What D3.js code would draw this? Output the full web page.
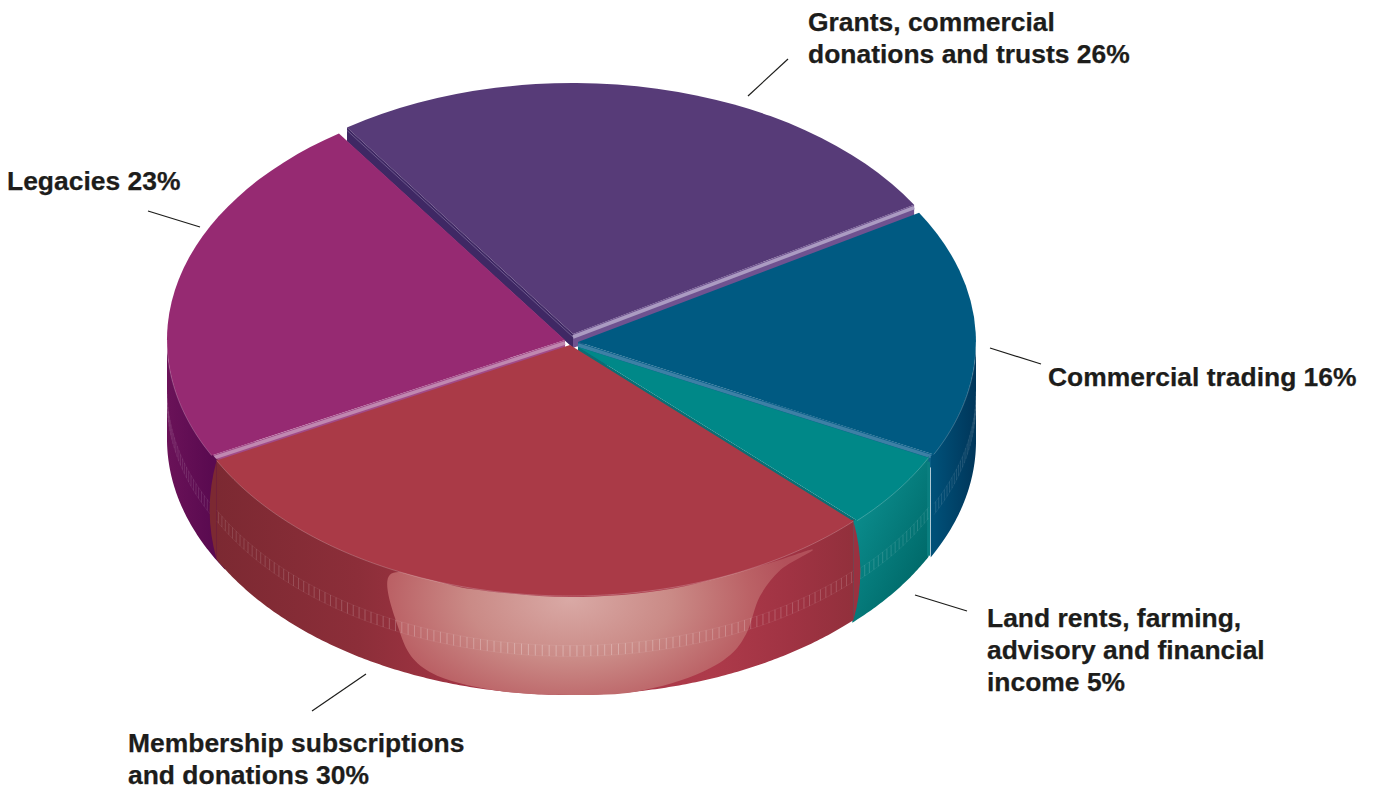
<!DOCTYPE html>
<html>

<head>
    <meta charset="UTF-8" />
    <title>income pie</title>
    <style>
        body {
            margin: 0;
            padding: 0;
            background: #fff;
            overflow: hidden;
        }

        text {
            font-family: 'Liberation Sans', Arial, sans-serif;
            font-weight: 700;
            font-size: 26.45px;
            fill: #1d1d1b;
            stroke: #1d1d1b;
            stroke-width: 0.25px;
        }
    </style>
</head>

<body>
    <script src="https://cdnjs.cloudflare.com/ajax/libs/d3/7.8.5/d3.min.js"></script>
    <script>
        // data, in pie order (clockwise from the top left cut)
        const categories = ['Grants', 'Commercial trading', 'Land rents', 'Membership', 'Legacies'];
        const shares = [26, 16, 5, 30, 23];
        const labelLines = [
            ['Grants, commercial', 'donations and trusts 26%'],
            ['Commercial trading 16%'],
            ['Land rents, farming,', 'advisory and financial', 'income 5%'],
            ['Membership subscriptions', 'and donations 30%'],
            ['Legacies 23%']
        ];

        // styling and layout per slice
        const topColors = ['#573b78', '#005a82', '#008888', '#aa3a47', '#962a72'];
        const wallStops = [
            ['#47306a', '#47306a'],
            ['#00365a', '#005078'],
            ['#006a6a', '#0a8a8a'],
            ['#7c2932', '#a93848'],
            ['#5a0a50', '#6a1258']
        ];
        const origins = [[573, 334], [578, 342], [578, 347], [570, 345], [565, 340]];
        const radii = [1, 1, 0.985, 1, 1];
        const cutEdge = ['both', 'end', 'end', 'none', 'start'];
        const cutFill = ['#6f5290', '#0f628c', '#0b6f75', '#aa3a47', '#a24a88'];
        const cutStripe = ['#ab9bc2', '#3d80a5', '#0b6f75', '#aa3a47', '#c088b0'];
        // extra degrees of wall hidden behind the next slice, so no white shows between walls
        const wallOverrunEnd = [0, 1, 1, 0, 0];
        const wallOverrunStart = [0, 0, 0, 0, 4];
        const labelAnchors = [[808, 31], [1048, 386], [987, 627], [128, 752], [7, 190]];
        const leaders = [
            [[748, 96], [788, 59]],
            [[990, 348], [1041, 364]],
            [[915, 595], [967, 611]],
            [[366, 674], [312, 711]],
            [[148, 211], [200, 227]]
        ];
        const paintOrder = [0, 4, 1, 2, 3];

        // highlight on the red wall: [angle in degrees, fraction down the wall]
        const shineOutline = [
            [142.4, 0.06], [148.1, 0.12], [151.5, 0.31], [153.6, 0.63], [155.8, 0.79], [160.5, 0.91],
            [170.3, 1], [180, 1], [189.7, 1], [199.5, 0.95], [203.2, 0.84], [205.3, 0.61], [206.9, 0.06],
            [195, 0.01], [180, 0.01], [165, 0.01], [150, 0.01]
        ];

        const width = 1380, height = 789;
        const rx = 398, ry = 251, depth = 99, cutDepth = 14, bulge = 14;
        const startDeg = -34.6;

        const svg = d3.select('body').append('svg')
            .attr('width', width)
            .attr('height', height)
            .style('display', 'block');
        const defs = svg.append('defs');

        const pie = d3.pie().sort(null)
            .startAngle(startDeg * Math.PI / 180)
            .endAngle((startDeg + 360) * Math.PI / 180);
        const slices = pie(shares);

        // unit circle -> picture, for one slice
        const px = (i, a) => origins[i][0] + radii[i] * rx * Math.sin(a);
        const py = (i, a) => origins[i][1] - radii[i] * ry * Math.cos(a);

        const arcUnit = d3.arc().innerRadius(0).outerRadius(1);
        const deg = Math.PI / 180;

        slices.forEach((d, i) => {
            const grad = defs.append('linearGradient')
                .attr('id', 'wall' + i)
                .attr('gradientUnits', 'userSpaceOnUse')
                .attr('x1', px(i, Math.max(d.startAngle, Math.PI / 2)))
                .attr('x2', px(i, Math.min(d.endAngle, Math.PI * 1.5)))
                .attr('y1', 0).attr('y2', 0);
            if (i === 3) {
                // runs from right to left on the picture
                grad.attr('x1', px(i, d.endAngle)).attr('x2', px(i, d.startAngle));
                [[0, '#7c2932'], [0.22, '#8c2e39'], [0.42, '#a63646'], [0.78, '#ad3a4a'], [0.9, '#a03343'], [1, '#92303c']]
                    .forEach(s => grad.append('stop').attr('offset', s[0]).attr('stop-color', s[1]));
            } else if (i === 2) {
                // land rents wall darkens towards its lower right
                grad.attr('x1', px(i, d.endAngle)).attr('y1', py(i, d.endAngle))
                    .attr('x2', px(i, d.startAngle)).attr('y2', py(i, d.startAngle) + depth);
                grad.append('stop').attr('offset', 0).attr('stop-color', wallStops[i][1]);
                grad.append('stop').attr('offset', 1).attr('stop-color', wallStops[i][0]);
            } else {
                grad.append('stop').attr('offset', 0).attr('stop-color', wallStops[i][0]);
                grad.append('stop').attr('offset', 1).attr('stop-color', wallStops[i][1]);
            }
        });

        const shine = defs.append('radialGradient')
            .attr('id', 'shine')
            .attr('gradientUnits', 'userSpaceOnUse')
            .attr('cx', 570).attr('cy', 600).attr('r', 225)
            .attr('gradientTransform', 'translate(570 600) scale(1 0.6) translate(-570 -600)');
        [[0, '#d9a9a5'], [0.45, '#ca8a86'], [0.8, '#bb6266'], [1, '#b2505a']]
            .forEach(s => shine.append('stop').attr('offset', s[0]).attr('stop-color', s[1]));

        const lineGen = d3.line();

        paintOrder.forEach(i => {
            const d = slices[i];
            const g = svg.append('g').attr('class', 'slice').attr('data-name', categories[i]);
            const [ox, oy] = origins[i];

            // cut faces seen through the gaps between slices
            const edges = cutEdge[i] === 'both' ? [d.startAngle, d.endAngle]
                : cutEdge[i] === 'start' ? [d.startAngle]
                    : cutEdge[i] === 'end' ? [d.endAngle] : [];
            edges.forEach(a => {
                const isDark = i === 0 && a === d.startAngle;
                const ex = px(i, a), ey = py(i, a);
                g.append('path')
                    .attr('d', lineGen([[ox, oy], [ex, ey], [ex, ey + cutDepth], [ox, oy + cutDepth]]) + 'Z')
                    .attr('fill', isDark ? '#3f2864' : cutFill[i]);
                g.append('path')
                    .attr('d', lineGen([[ox, oy + 3], [ex, ey + 3]]))
                    .attr('stroke', isDark ? '#6d5a8c' : cutStripe[i])
                    .attr('stroke-width', isDark ? 1 : 3.5)
                    .attr('fill', 'none');
            });

            // outer wall, only the part that faces us
            const a0 = Math.max(d.startAngle, Math.PI / 2);
            const a1 = Math.min(d.endAngle, Math.PI * 1.5);
            if (a1 > a0) {
                const steps = d3.range(a0, a1, deg / 2).concat([a1]);
                const wallFrom = a0 - wallOverrunStart[i] * deg;
                const wallTo = a1 + wallOverrunEnd[i] * deg;
                const wallSteps = d3.range(wallFrom, wallTo, deg / 2).concat([wallTo]);
                const wall = d3.area()
                    .x(a => px(i, a))
                    .y0(a => py(i, a) - 2)
                    .y1(a => py(i, a) + depth);
                g.append('path').attr('d', wall(wallSteps)).attr('fill', `url(#wall${i})`);

                // seam where the land rents wall meets the blue one
                if (i === 2) {
                    const sx = px(i, a0), sy = py(i, a0);
                    g.append('path')
                        .attr('d', lineGen([[sx, sy + 4], [sx, sy + depth - 1]]))
                        .attr('stroke', '#0a7f80')
                        .attr('stroke-width', 3);
                }

                // membership wall has rounded ends that swell over its neighbours
                if (i === 3) {
                    [[a0, 1, '#9a3140'], [a1, -1, '#7c2932']].forEach(([a, dir, color]) => {
                        const x = px(i, a), y = py(i, a);
                        const cap = d3.path();
                        cap.moveTo(x, y);
                        cap.quadraticCurveTo(x + dir * bulge, y + depth / 2, x, y + depth);
                        cap.closePath();
                        g.append('path').attr('d', cap.toString()).attr('fill', color);
                    });

                    const outline = shineOutline.map(p => {
                        const a = p[0] * deg;
                        return [px(i, a), py(i, a) + p[1] * depth];
                    });
                    g.append('path')
                        .attr('d', d3.line().curve(d3.curveCatmullRomClosed.alpha(0.5))(outline))
                        .attr('fill', 'url(#shine)');
                }

                // row of small stitches around the wall
                const stitchTop = 0.5, stitchBottom = 0.61;
                const stitches = d3.range(Math.ceil(a0 / deg), a1 / deg, 1).map(v => v * deg);
                g.append('g').selectAll('line').data(stitches).join('line')
                    .attr('x1', a => px(i, a)).attr('x2', a => px(i, a))
                    .attr('y1', a => py(i, a) + stitchTop * depth)
                    .attr('y2', a => py(i, a) + stitchBottom * depth)
                    .attr('stroke', '#fff')
                    .attr('stroke-opacity', a => {
                        const x = Math.abs(Math.sin(a));
                        return 0.5 - 0.32 * x;
                    })
                    .attr('stroke-width', 0.6);
                [stitchTop, stitchBottom].forEach(f => {
                    g.append('path')
                        .attr('d', d3.line().x(a => px(i, a)).y(a => py(i, a) + f * depth)(steps))
                        .attr('fill', 'none')
                        .attr('stroke', '#fff')
                        .attr('stroke-opacity', 0.12)
                        .attr('stroke-width', 0.5);
                });
            }

            // top face
            g.append('path')
                .attr('transform', `translate(${ox},${oy}) scale(${radii[i] * rx},${radii[i] * ry})`)
                .attr('d', arcUnit({ startAngle: d.startAngle, endAngle: d.endAngle }))
                .attr('fill', topColors[i]);

            // thin bright rim on the front
            if (a1 > a0) {
                const rimSteps = d3.range(a0, a1, deg / 2).concat([a1]);
                g.append('path')
                    .attr('d', d3.line().x(a => px(i, a)).y(a => py(i, a))(rimSteps))
                    .attr('fill', 'none')
                    .attr('stroke', '#fff')
                    .attr('stroke-opacity', 0.22)
                    .attr('stroke-width', 1);
            }
        });

        // leader lines and labels
        svg.append('g').selectAll('line').data(leaders).join('line')
            .attr('x1', d => d[0][0]).attr('y1', d => d[0][1])
            .attr('x2', d => d[1][0]).attr('y2', d => d[1][1])
            .attr('stroke', '#1d1d1b')
            .attr('stroke-width', 1.2);

        labelLines.forEach((lines, i) => {
            const t = svg.append('text')
                .attr('x', labelAnchors[i][0])
                .attr('y', labelAnchors[i][1]);
            lines.forEach((s, j) => {
                t.append('tspan')
                    .attr('x', labelAnchors[i][0])
                    .attr('dy', j === 0 ? 0 : 32)
                    .text(s);
            });
        });
    </script>
</body>

</html>
